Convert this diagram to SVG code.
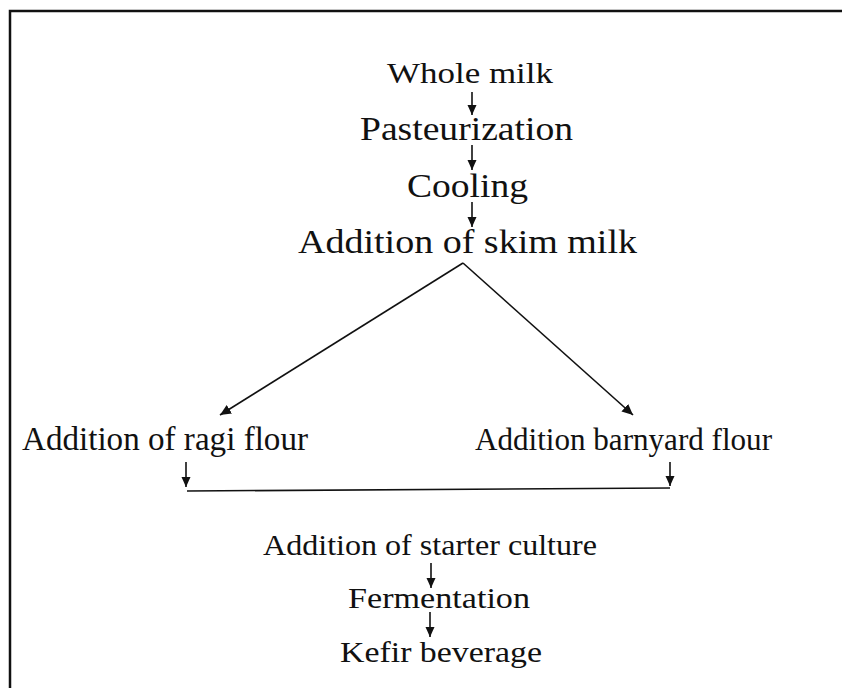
<svg xmlns="http://www.w3.org/2000/svg" width="842" height="688" viewBox="0 0 842 688">
  <style>
    .t { font-family: "Liberation Serif", "Times New Roman", serif; fill: #111; }
    .c { stroke: #111; stroke-width: 1.6; fill: none; }
  </style>
  <defs>
    <marker id="ah" markerUnits="userSpaceOnUse" markerWidth="12" markerHeight="12" viewBox="0 0 12 12" refX="11" refY="6" orient="auto">
      <path d="M0,1 L11,6 L0,11 Z" fill="#111"/>
    </marker>
    <marker id="ahs" markerUnits="userSpaceOnUse" markerWidth="10" markerHeight="10" viewBox="0 0 10 10" refX="10" refY="5" orient="auto">
      <path d="M0,0.5 L10,5 L0,9.5 Z" fill="#111"/>
    </marker>
  </defs>
  <rect width="842" height="688" fill="#fff"/>
  <g id="frame">
    <path d="M10,688 L10,11 L842,11" fill="none" stroke="#111" stroke-width="2.5"/>
  </g>

  <g id="n-whole-milk"><text class="t" x="387" y="83" font-size="29" textLength="166" lengthAdjust="spacingAndGlyphs">Whole milk</text></g>
  <g id="n-pasteurization"><text class="t" x="360" y="140" font-size="33" textLength="213" lengthAdjust="spacingAndGlyphs">Pasteurization</text></g>
  <g id="n-cooling"><text class="t" x="407" y="197" font-size="33" textLength="121" lengthAdjust="spacingAndGlyphs">Cooling</text></g>
  <g id="n-skim"><text class="t" x="298" y="253" font-size="33" textLength="339" lengthAdjust="spacingAndGlyphs">Addition of skim milk</text></g>
  <g id="n-ragi"><text class="t" x="22" y="450" font-size="33" textLength="286" lengthAdjust="spacingAndGlyphs">Addition of ragi flour</text></g>
  <g id="n-barnyard"><text class="t" x="475" y="450" font-size="32" textLength="297" lengthAdjust="spacingAndGlyphs">Addition barnyard flour</text></g>
  <g id="n-starter"><text class="t" x="263" y="555" font-size="30" textLength="334" lengthAdjust="spacingAndGlyphs">Addition of starter culture</text></g>
  <g id="n-fermentation"><text class="t" x="348" y="608" font-size="30" textLength="182" lengthAdjust="spacingAndGlyphs">Fermentation</text></g>
  <g id="n-kefir"><text class="t" x="340" y="662" font-size="30" textLength="202" lengthAdjust="spacingAndGlyphs">Kefir beverage</text></g>

  <g id="connectors">
    <line class="c" x1="472" y1="92" x2="472" y2="115" marker-end="url(#ahs)"/>
    <line class="c" x1="472" y1="145" x2="472" y2="170" marker-end="url(#ahs)"/>
    <line class="c" x1="472" y1="202" x2="472" y2="227" marker-end="url(#ahs)"/>
    <line class="c" x1="463" y1="263" x2="220" y2="415" marker-end="url(#ah)"/>
    <line class="c" x1="463" y1="263" x2="633" y2="415" marker-end="url(#ah)"/>
    <line class="c" x1="186" y1="462" x2="186" y2="487" marker-end="url(#ahs)"/>
    <line class="c" x1="670" y1="462" x2="670" y2="486" marker-end="url(#ahs)"/>
    <line class="c" x1="187" y1="491" x2="670" y2="488"/>
    <line class="c" x1="431" y1="563" x2="431" y2="588" marker-end="url(#ahs)"/>
    <line class="c" x1="430" y1="612" x2="430" y2="637" marker-end="url(#ahs)"/>
  </g>
</svg>
